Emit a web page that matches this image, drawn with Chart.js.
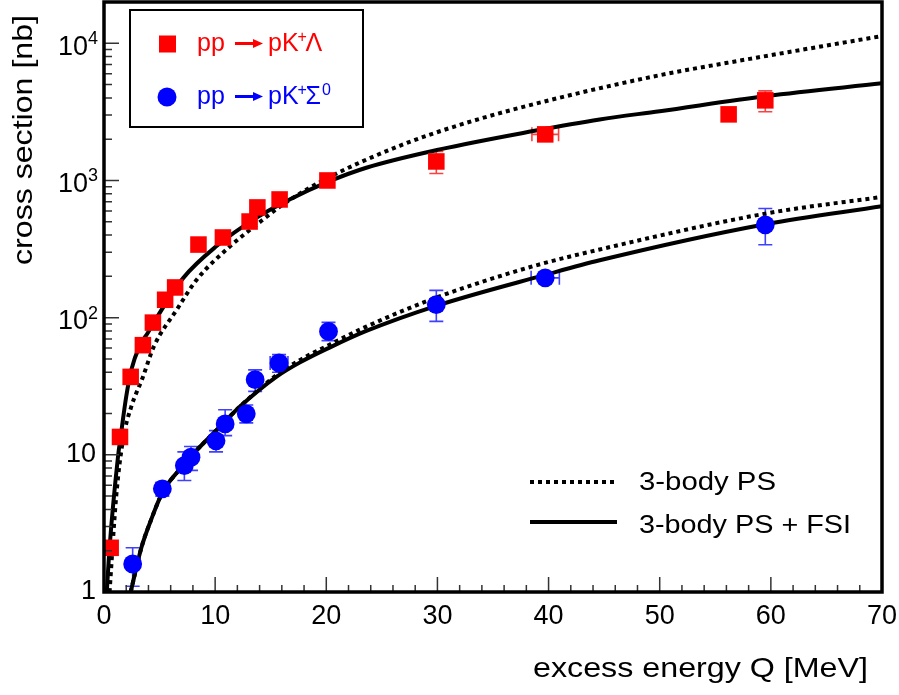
<!DOCTYPE html>
<html>
<head>
<meta charset="utf-8">
<script src="https://cdn.jsdelivr.net/npm/chart.js@4.4.1/dist/chart.umd.min.js"></script>
<style>
  html, body { margin: 0; padding: 0; background: #fff; }
</style>
</head>
<body>
<canvas id="xsec" width="899" height="695"></canvas>
<script>
// ── Data: pp -> pK+Lambda (red squares) ──────────────────────────────────
const lamQ     = [0.6, 1.44, 2.4, 3.5, 4.4, 5.5, 6.4, 8.5, 10.7, 13.1, 13.8, 15.8, 20.1, 29.9, 39.7, 56.2, 59.5];
const lamSigma = [2.1, 13.5, 37, 63, 92, 135, 166, 341, 384, 502, 636, 727, 1000, 1376, 2168, 3033, 3838];
const lamLo    = [1.9, 12.5, 34, 59, 86, 126, 155, 320, 360, 470, 600, 680, 940, 1125, 2040, 2850, 3172];
const lamHi    = [2.3, 14.5, 40, 67, 98, 144, 177, 362, 408, 534, 672, 774, 1060, 1629, 2300, 3220, 4500];
const lamQerr  = [0, 0, 0, 0, 0, 0, 0, 0, 0, 0, 0, 0, 0, 0, 1.2, 0, 0];

// ── Data: pp -> pK+Sigma0 (blue circles) ─────────────────────────────────
const sigQ     = [2.58, 5.25, 7.23, 7.83, 10.08, 10.9, 12.8, 13.6, 15.75, 20.2, 29.9, 39.7, 59.5];
const sigSigma = [1.6, 5.65, 8.35, 9.6, 12.65, 16.8, 19.9, 35.3, 46.7, 79.4, 124.5, 195, 475];
const sigLo    = [1.1, 5.0, 6.5, 7.7, 10.5, 13.8, 17.1, 29, 40, 68, 94, 180, 340];
const sigHi    = [2.1, 6.3, 10.5, 11.5, 15, 21.3, 23.1, 41.6, 53.8, 92.4, 158, 212, 625];
const sigQerr  = [0, 0, 0, 0, 0, 0, 0, 0, 0.8, 0, 0, 1.27, 0];

// ── Model curves ─────────────────────────────────────────────────────────
const psLamQ  = [0.5, 1.1, 1.71, 2.46, 3.45, 4.5, 6.54, 8.34, 11.34, 13.74, 16.1, 19.7, 26.6, 32.6, 40.1, 50, 58.1, 70];
const psLamY  = [1.0, 5.0, 12.9, 22.5, 36, 62, 114, 189, 331, 477, 668, 1000, 1790, 2630, 3850, 5850, 7700, 11300];
const fsiLamQ = [0.25, 0.5, 1.26, 1.5, 2.0, 2.46, 3.2, 3.96, 4.74, 7.14, 10.1, 13.7, 16.7, 20.3, 23.6, 30.2, 38.6, 44.6, 50, 59.6, 70];
const fsiLamY = [1.0, 2.1, 9.7, 13.6, 26.6, 41.7, 62, 78, 100, 195, 331, 534, 727, 988, 1238, 1684, 2291, 2786, 3200, 4125, 5106];
const psSigQ  = [2.4, 3.36, 4.26, 5.3, 6.66, 7.74, 10.14, 12.24, 15.5, 17.6, 20.2, 23.6, 29.9, 38.6, 44.6, 59.6, 70];
const psSigY  = [1.0, 2.1, 3.4, 5.4, 7.6, 9.6, 15.2, 22.5, 38, 49, 63, 86, 140, 237, 314, 575, 759];
const fsiSigQ = [2.4, 3.36, 4.26, 5.3, 6.66, 7.74, 10.14, 12.24, 15.5, 17.6, 20.2, 23.6, 29.9, 39.7, 44.6, 59.5, 70];
const fsiSigY = [1.0, 2.1, 3.4, 5.4, 7.6, 9.6, 15.2, 22.5, 37, 47, 60, 80, 122, 205, 262, 480, 649];

// ── Axes ─────────────────────────────────────────────────────────────────
const xTicks   = [0, 10, 20, 30, 40, 50, 60, 70];
const yDecades = [1, 10, 100, 1000, 10000];
const yBase    = ['1', '10', '10', '10', '10'];
const yExp     = ['', '', '2', '3', '4'];

const FONT = '"Liberation Sans", Arial, Helvetica, sans-serif';
const RED = '#ff0000', BLUE = '#0000ff';

const pts = (xs, ys) => xs.map((x, i) => ({ x: x, y: ys[i] }));

function fitText(ctx, txt, x, y, w, px) {
    ctx.font = px + 'px ' + FONT;
    const m = ctx.measureText(txt).width;
    ctx.save();
    ctx.translate(x, y);
    ctx.scale(w / m, 1);
    ctx.textAlign = 'left';
    ctx.fillText(txt, 0, 0);
    ctx.restore();
}

// error bars, under the markers
const errorBars = {
    id: 'errorBars',
    beforeDatasetsDraw(chart) {
        const { ctx, scales: { x, y } } = chart;
        const draw = (qs, vals, lo, hi, qerr, color) => {
            ctx.save();
            ctx.strokeStyle = color;
            ctx.lineWidth = 1.6;
            const cap = 7;
            qs.forEach((q, i) => {
                const px = x.getPixelForValue(q);
                const py = y.getPixelForValue(vals[i]);
                const yl = y.getPixelForValue(lo[i]);
                const yh = y.getPixelForValue(hi[i]);
                ctx.beginPath();
                ctx.moveTo(px, yl); ctx.lineTo(px, yh);
                ctx.moveTo(px - cap, yl); ctx.lineTo(px + cap, yl);
                ctx.moveTo(px - cap, yh); ctx.lineTo(px + cap, yh);
                if (qerr[i]) {
                    const xl = x.getPixelForValue(q - qerr[i]);
                    const xr = x.getPixelForValue(q + qerr[i]);
                    ctx.moveTo(xl, py); ctx.lineTo(xr, py);
                    ctx.moveTo(xl, py - cap); ctx.lineTo(xl, py + cap);
                    ctx.moveTo(xr, py - cap); ctx.lineTo(xr, py + cap);
                }
                ctx.stroke();
            });
            ctx.restore();
        };
        draw(lamQ, lamSigma, lamLo, lamHi, lamQerr, '#ff4040');
        draw(sigQ, sigSigma, sigLo, sigHi, sigQerr, '#4040ff');
    }
};

// frame, inside ticks, labels, titles, legends
const decor = {
    id: 'decor',
    afterDraw(chart) {
        const { ctx, chartArea: ca, scales: { x, y } } = chart;
        ctx.save();

        // ticks (inside)
        ctx.strokeStyle = '#333';
        ctx.lineWidth = 1.5;
        ctx.beginPath();
        for (let q = 0; q <= 70; q += 2) {
            const px = x.getPixelForValue(q);
            const len = q % 10 === 0 ? 15 : 7;
            ctx.moveTo(px, ca.bottom); ctx.lineTo(px, ca.bottom - len);
        }
        yDecades.forEach(d => {
            for (let k = 1; k <= 9; k++) {
                const v = d * k;
                if (v > y.max) break;
                const py = y.getPixelForValue(v);
                const len = k === 1 ? 15 : 8;
                ctx.moveTo(ca.left, py); ctx.lineTo(ca.left + len, py);
            }
        });
        ctx.stroke();

        // frame
        ctx.strokeStyle = '#000';
        ctx.lineWidth = 3.5;
        ctx.strokeRect(ca.left, ca.top, ca.right - ca.left, ca.bottom - ca.top);

        // tick labels
        ctx.fillStyle = '#000';
        ctx.font = '27px ' + FONT;
        ctx.textAlign = 'center';
        ctx.textBaseline = 'middle';
        xTicks.forEach(t => ctx.fillText(String(t), x.getPixelForValue(t), 617));

        yDecades.forEach((d, i) => {
            const py = y.getPixelForValue(d);
            ctx.textBaseline = 'middle';
            if (!yExp[i]) {
                ctx.font = '27px ' + FONT;
                ctx.textAlign = 'right';
                ctx.fillText(yBase[i], 96, py);
            } else {
                ctx.font = '27px ' + FONT;
                ctx.textAlign = 'right';
                ctx.fillText(yBase[i], 88, py + 4);
                ctx.font = '18px ' + FONT;
                ctx.textAlign = 'left';
                ctx.textBaseline = 'alphabetic';
                ctx.fillText(yExp[i], 88, py + 1);
            }
        });

        // axis titles
        ctx.textBaseline = 'alphabetic';
        fitText(ctx, 'excess energy Q [MeV]', 533, 677, 335, 28);
        ctx.save();
        ctx.translate(32, 265);
        ctx.rotate(-Math.PI / 2);
        fitText(ctx, 'cross section [nb]', 0, 0, 250, 28);
        ctx.restore();

        // legend box (data)
        ctx.strokeStyle = '#000';
        ctx.lineWidth = 2;
        ctx.strokeRect(130, 10, 233, 117);

        const reaction = (cy, color, marker, part, sup) => {
            ctx.fillStyle = color;
            if (marker === 'rect') {
                ctx.fillRect(159, cy - 8.5, 17, 17);
            } else {
                ctx.beginPath(); ctx.arc(167, cy, 9.5, 0, Math.PI * 2); ctx.fill();
            }
            const base = cy + 7;
            ctx.font = '25px ' + FONT;
            ctx.textAlign = 'left';
            ctx.fillText('pp', 197, base);
            // arrow
            const ay = cy - 0.5;
            ctx.strokeStyle = color;
            ctx.lineWidth = 3;
            ctx.beginPath(); ctx.moveTo(235, ay); ctx.lineTo(254, ay); ctx.stroke();
            ctx.beginPath(); ctx.moveTo(253, ay - 4.5); ctx.lineTo(263, ay); ctx.lineTo(253, ay + 4.5); ctx.closePath(); ctx.fill();
            ctx.font = '25px ' + FONT;
            ctx.fillText('pK', 268, base);
            const kEnd = 268 + ctx.measureText('pK').width;
            ctx.font = '16px ' + FONT;
            ctx.fillText('+', kEnd - 1, base - 9);
            ctx.font = '25px ' + FONT;
            ctx.fillText(part, kEnd + 7, base);
            if (sup) {
                const pEnd = kEnd + 7 + ctx.measureText(part).width;
                ctx.font = '16px ' + FONT;
                ctx.fillText(sup, pEnd + 1, base - 9);
            }
        };
        reaction(44, RED, 'rect', 'Λ', '');
        reaction(97, BLUE, 'circle', 'Σ', '0');

        // legend (models)
        ctx.strokeStyle = '#000';
        ctx.lineWidth = 4;
        ctx.setLineDash([4, 4]);
        ctx.beginPath(); ctx.moveTo(530, 482); ctx.lineTo(617, 482); ctx.stroke();
        ctx.setLineDash([]);
        ctx.beginPath(); ctx.moveTo(530, 522); ctx.lineTo(617, 522); ctx.stroke();
        ctx.fillStyle = '#000';
        fitText(ctx, '3-body PS', 639, 490, 137, 26);
        fitText(ctx, '3-body PS + FSI', 639, 533, 212, 26);

        ctx.restore();
    }
};

const curve = (data, dashed) => ({
    type: 'scatter',
    data: data,
    showLine: true,
    borderColor: '#000',
    borderWidth: 4,
    borderDash: dashed ? [4, 4] : [],
    borderCapStyle: 'butt',
    pointRadius: 0,
    cubicInterpolationMode: 'monotone',
    fill: false,
    clip: 0
});

new Chart(document.getElementById('xsec'), {
    type: 'scatter',
    data: {
        datasets: [
            {
                label: 'pp → pK+Λ',
                data: pts(lamQ, lamSigma),
                pointStyle: 'rect',
                pointRadius: 11.7,
                backgroundColor: RED,
                borderWidth: 0
            },
            {
                label: 'pp → pK+Σ0',
                data: pts(sigQ, sigSigma),
                pointStyle: 'circle',
                pointRadius: 9.4,
                backgroundColor: BLUE,
                borderWidth: 0
            },
            curve(pts(psLamQ, psLamY), true),
            curve(pts(fsiLamQ, fsiLamY), false),
            curve(pts(psSigQ, psSigY), true),
            curve(pts(fsiSigQ, fsiSigY), false)
        ]
    },
    options: {
        responsive: false,
        animation: false,
        events: [],
        layout: { autoPadding: false, padding: { left: 104, right: 17, top: 2, bottom: 103 } },
        plugins: { legend: { display: false }, tooltip: { enabled: false } },
        scales: {
            x: { type: 'linear', min: 0, max: 70, display: false },
            y: { type: 'logarithmic', min: 1, max: 20000, display: false }
        }
    },
    plugins: [errorBars, decor]
});
</script>
</body>
</html>
